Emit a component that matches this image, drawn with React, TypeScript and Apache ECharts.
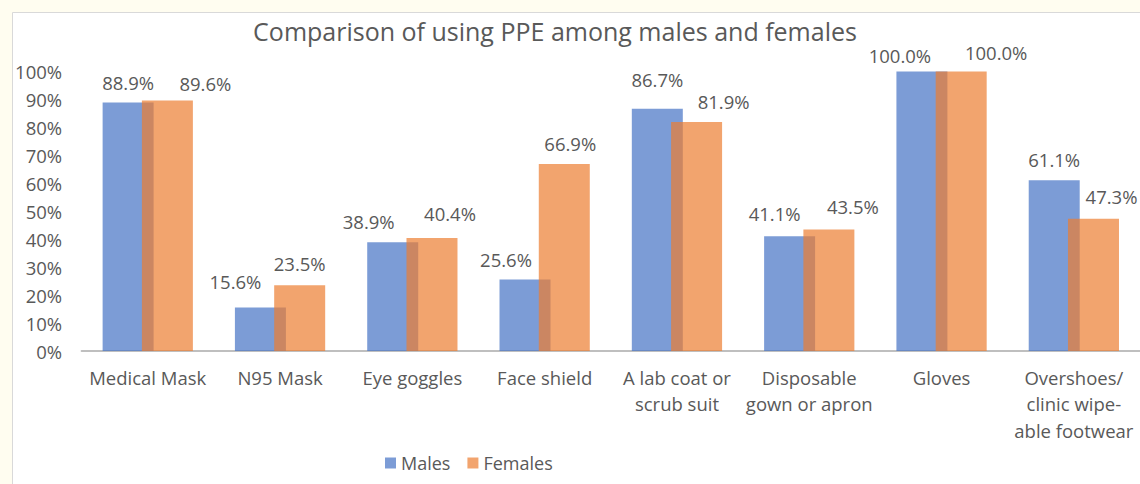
import React, { useEffect, useRef } from "react";
import * as echarts from "echarts";

const titleText = "Comparison of using PPE among males and females";
const categories = [
  "Medical Mask",
  "N95 Mask",
  "Eye goggles",
  "Face shield",
  "A lab coat or\nscrub suit",
  "Disposable\ngown or apron",
  "Gloves",
  "Overshoes/\nclinic wipe-\nable footwear",
];
const seriesNames = ["Males", "Females"];
const males = [88.9, 15.6, 38.9, 25.6, 86.7, 41.1, 100.0, 61.1];
const females = [89.6, 23.5, 40.4, 66.9, 81.9, 43.5, 100.0, 47.3];
const yMin = 0;
const yMax = 100;
const yStep = 10;

// label nudges (pixels) mimicking the manually moved labels of the original
const maleLabelOffsets = [[0, 0], [-25, -5], [-24, 0], [-19, 1], [0, -9], [-15, -2], [-22, 4], [0, 0]];
const femaleLabelOffsets = [[38, 3], [0, -1], [18, -4], [6, 0], [27, 0], [24, -2], [35, 1], [18, -2]];

const FONT = "'Open Sans', sans-serif";
const TXT = "#595959";

export default function App() {
  const ref = useRef<HTMLDivElement>(null);
  useEffect(() => {
    if (!ref.current) return;
    const chart = echarts.init(ref.current, undefined, { renderer: "svg" });
    const labelBase = {
      show: true,
      position: "top",
      distance: 11,
      color: TXT,
      fontFamily: FONT,
      fontSize: 18.5,
      formatter: (p: any) => Number(p.value).toFixed(1) + "%",
    };
    chart.setOption({
      animation: false,
      backgroundColor: "#FFFDF0",
      textStyle: { fontFamily: FONT },
      graphic: [
        {
          type: "rect",
          z: -10,
          silent: true,
          shape: { x: 12.5, y: 12.5, width: 1300, height: 700 },
          style: { fill: "#FFFFFF", stroke: "#D9D9D9", lineWidth: 1 },
        },
      ],
      title: {
        text: titleText,
        left: 550,
        top: 13,
        textAlign: "center",
        textStyle: { color: TXT, fontFamily: FONT, fontSize: 25, fontWeight: "normal" },
      },
      legend: {
        data: seriesNames,
        left: 385,
        top: 454,
        padding: 0,
        itemWidth: 11,
        itemHeight: 11,
        itemGap: 17,
        icon: "rect",
        textStyle: { color: TXT, fontFamily: FONT, fontSize: 18 },
      },
      grid: { left: 81.6, width: 1062.4, top: 71.5, bottom: 133, containLabel: false },
      xAxis: {
        type: "category",
        data: categories,
        axisLine: { show: true, lineStyle: { color: "#BFBFBF", width: 2 } },
        axisTick: { show: false },
        axisLabel: {
          color: TXT,
          fontFamily: FONT,
          fontSize: 18.5,
          lineHeight: 26.5,
          margin: 13,
          interval: 0,
        },
        splitLine: { show: false },
      },
      yAxis: {
        type: "value",
        min: yMin,
        max: yMax,
        interval: yStep,
        axisLine: { show: false },
        axisTick: { show: false },
        splitLine: { show: false },
        axisLabel: {
          color: TXT,
          fontFamily: FONT,
          fontSize: 18.5,
          margin: 19.5,
          formatter: "{value}%",
        },
      },
      series: [
        {
          name: seriesNames[0],
          type: "bar",
          barWidth: 51,
          barGap: "-23%",
          itemStyle: { color: "rgba(68,114,196,0.7)" },
          label: labelBase,
          data: males.map((v, i) => ({ value: v, label: { offset: maleLabelOffsets[i] } })),
        },
        {
          name: seriesNames[1],
          type: "bar",
          barWidth: 51,
          barGap: "-23%",
          itemStyle: { color: "rgba(237,125,49,0.7)" },
          label: labelBase,
          data: females.map((v, i) => ({ value: v, label: { offset: femaleLabelOffsets[i] } })),
        },
      ],
    });
    return () => chart.dispose();
  }, []);
  return (
    <div
      ref={ref}
      style={{ position: "absolute", left: 0, top: 0, width: 1140, height: 484 }}
    />
  );
}
